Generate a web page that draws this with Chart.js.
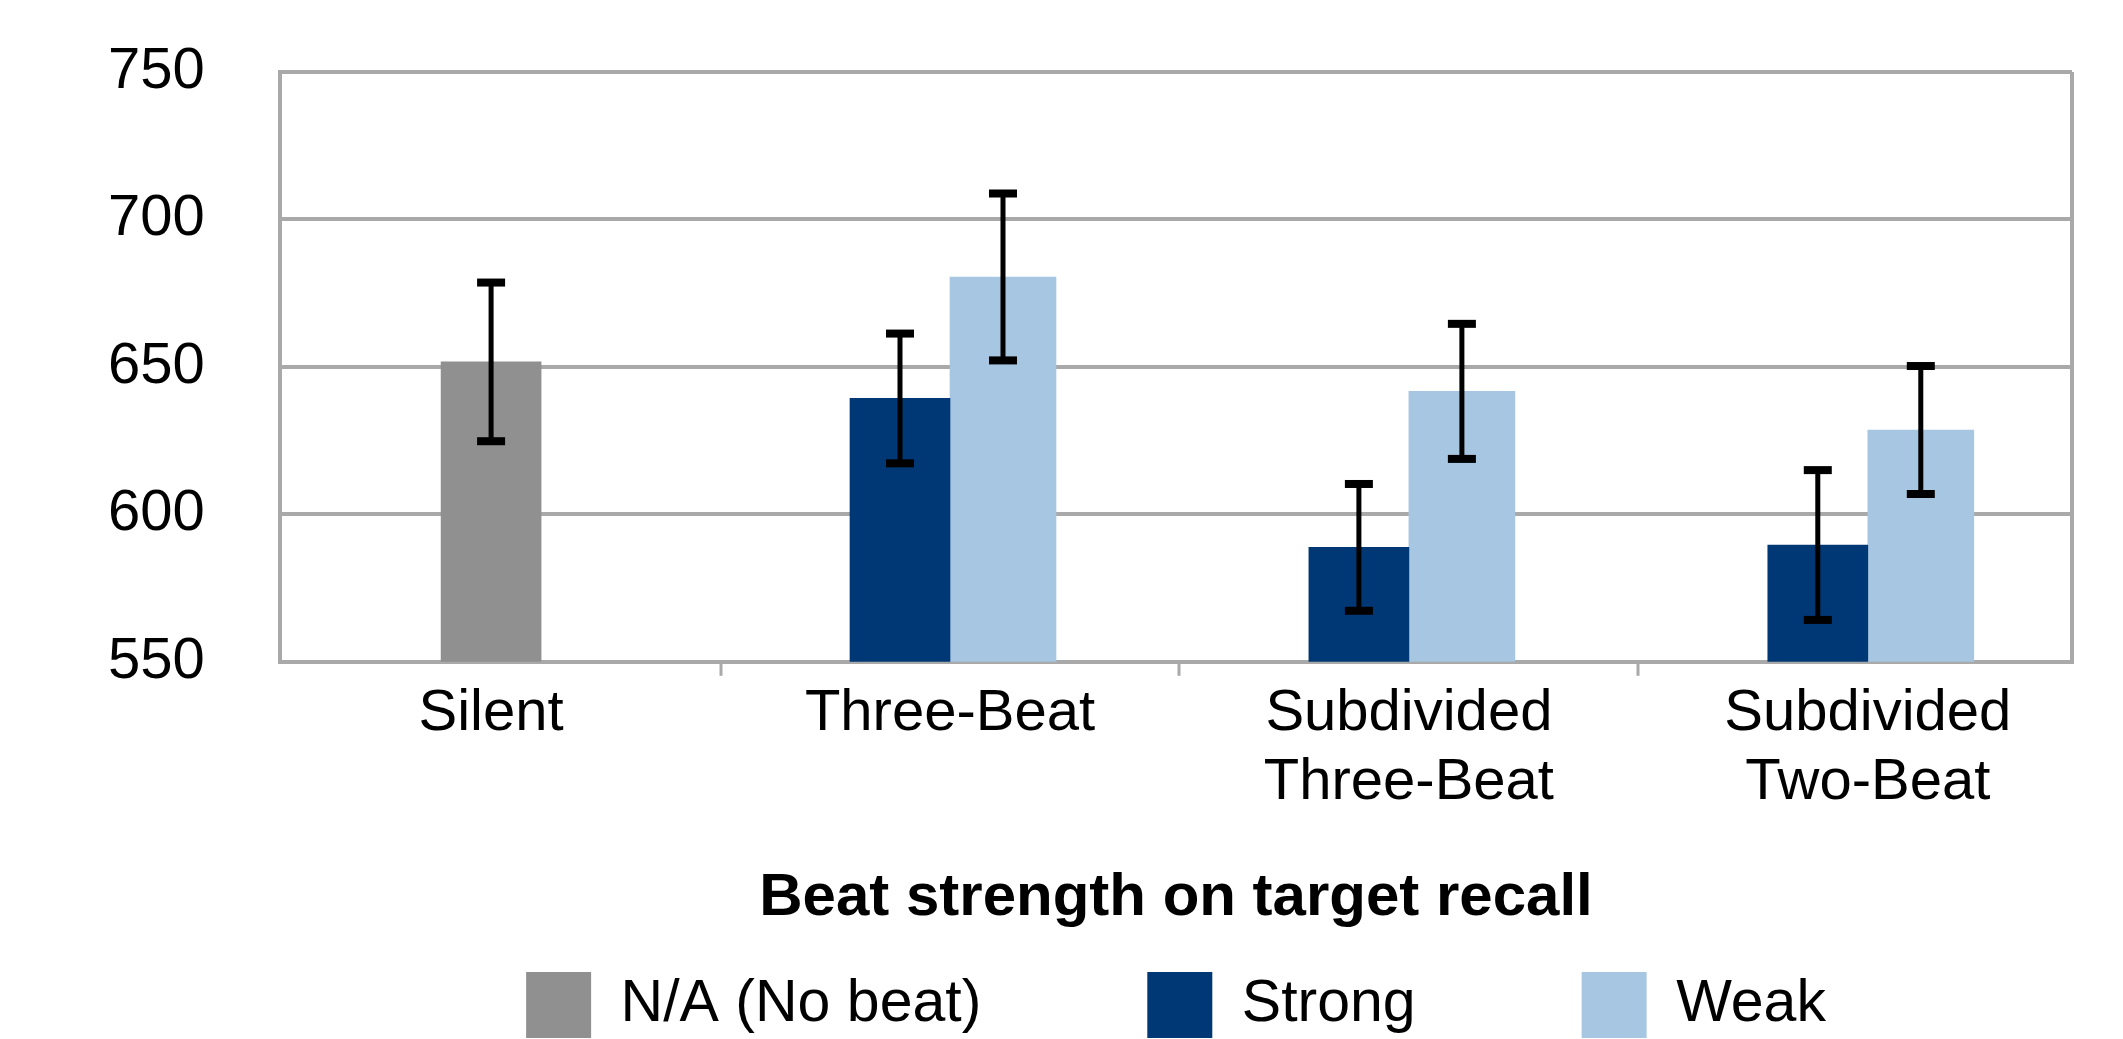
<!DOCTYPE html>
<html>
<head>
<meta charset="utf-8">
<script src="https://cdn.jsdelivr.net/npm/chart.js"></script>
<style>
  html, body { margin: 0; padding: 0; background: #ffffff; }
  #wrap { width: 2123px; height: 1039px; position: relative; }
</style>
</head>
<body>
<div id="wrap"><canvas id="chart"></canvas></div>
<script>
// ---- data ----
const categories = ['Silent', 'Three-Beat', ['Subdivided', 'Three-Beat'], ['Subdivided', 'Two-Beat']];
const seriesNames = ['N/A (No beat)', 'Strong', 'Weak'];
const noBeat    = [651.7, null, null, null];
const noBeatErr = [26.9, null, null, null];
const strong    = [null, 639.3, 588.8, 589.6];
const strongErr = [null, 22.0, 21.5, 25.4];
const weak      = [null, 680.5, 641.7, 628.6];
const weakErr   = [null, 28.3, 22.9, 21.7];
const yTicks    = [550, 600, 650, 700, 750];
const xAxisTitle = 'Beat strength on target recall';

// ---- styling ----
const FONT = "'Liberation Sans', Arial, Helvetica, sans-serif";
const frameColor = '#a9a9a9';
const clear = 'rgba(0,0,0,0)';
const colors = ['#8f908f', '#003876', '#a6c6e1'];
const xMin = -0.46, xMax = 3.445;

const toPoints = arr => arr.map((v, i) => ({ x: i, y: v }));
const errors = [noBeatErr, strongErr, weakErr];
const values = [noBeat, strong, weak];

const errorBars = {
  id: 'errorBars',
  afterDatasetsDraw(chart) {
    const ctx = chart.ctx;
    const yScale = chart.scales.y;
    ctx.save();
    ctx.fillStyle = '#000000';
    values.forEach((vals, d) => {
      const meta = chart.getDatasetMeta(d);
      vals.forEach((v, i) => {
        const e = errors[d][i];
        if (v === null || e === null) return;
        const bar = meta.data[i];
        const x = bar.x;
        const yHi = yScale.getPixelForValue(v + e);
        const yLo = yScale.getPixelForValue(v - e);
        ctx.fillRect(x - 2.5, yHi, 5, yLo - yHi);
        ctx.fillRect(x - 14, yHi - 4, 28, 8);
        ctx.fillRect(x - 14, yLo - 4, 28, 8);
      });
    });
    ctx.restore();
  }
};

new Chart(document.getElementById('chart'), {
  type: 'bar',
  data: {
    datasets: [
      { label: seriesNames[0], data: toPoints(noBeat), backgroundColor: colors[0], borderWidth: 0, barThickness: 100 },
      { label: seriesNames[1], data: toPoints(strong), backgroundColor: colors[1], borderWidth: 0, barThickness: 100 },
      { label: seriesNames[2], data: toPoints(weak), backgroundColor: colors[2], borderWidth: 0, barThickness: 106 }
    ]
  },
  options: {
    responsive: true,
    maintainAspectRatio: false,
    animation: false,
    skipNull: true,
    layout: { padding: { left: 280, right: 51, top: 72, bottom: 0 } },
    plugins: {
      legend: {
        position: 'bottom',
        maxHeight: 233,
        labels: {
          boxWidth: 65,
          boxHeight: 66,
          padding: 166,
          color: '#000000',
          font: { family: FONT, size: 59 }
        }
      },
      tooltip: { enabled: false }
    },
    scales: {
      x: {
        type: 'linear',
        min: xMin,
        max: xMax,
        bounds: 'data',
        offset: false,
        afterBuildTicks: scale => {
          const t = [xMin];
          categories.forEach((c, i) => {
            t.push(i);
            if (i < categories.length - 1) t.push(i + 0.5);
          });
          t.push(xMax);
          scale.ticks = t.map(v => ({ value: v }));
        },
        grid: {
          offset: false,
          drawOnChartArea: true,
          drawTicks: true,
          tickLength: 14,
          lineWidth: 4,
          tickWidth: 3,
          color: c => (c.tick && (c.tick.value === xMin || c.tick.value === xMax)) ? frameColor : clear,
          tickColor: c => (c.tick && !Number.isInteger(c.tick.value) && c.tick.value > xMin && c.tick.value < xMax) ? frameColor : clear
        },
        border: { display: true, color: frameColor, width: 4 },
        ticks: {
          autoSkip: false,
          maxRotation: 0,
          minRotation: 0,
          padding: 3,
          color: '#000000',
          font: { family: FONT, size: 58 },
          callback: v => Number.isInteger(v) && categories[v] !== undefined ? categories[v] : ''
        },
        title: {
          display: true,
          text: xAxisTitle,
          color: '#000000',
          font: { family: FONT, size: 60, weight: 'bold' },
          padding: { top: 41, bottom: -128 }
        }
      },
      y: {
        min: yTicks[0],
        max: yTicks[yTicks.length - 1],
        afterFit: scale => { scale.width = 0; },
        afterBuildTicks: scale => { scale.ticks = yTicks.map(v => ({ value: v })); },
        grid: { color: frameColor, lineWidth: 4, drawTicks: false },
        border: { display: true, color: frameColor, width: 4 },
        ticks: {
          mirror: true,
          crossAlign: 'far',
          padding: -172,
          color: '#000000',
          font: { family: FONT, size: 58 }
        }
      }
    }
  },
  plugins: [errorBars]
});
</script>
</body>
</html>
